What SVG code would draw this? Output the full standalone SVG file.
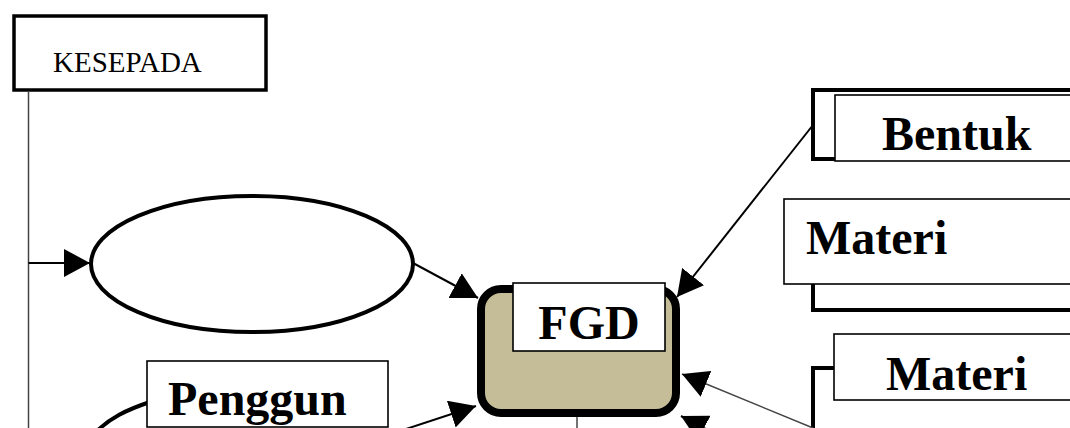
<svg xmlns="http://www.w3.org/2000/svg" width="1070" height="428" viewBox="0 0 1070 428">
  <style>
    .box { fill: #ffffff; stroke: #000000; stroke-width: 1.6; }
    .frame { fill: none; stroke: #000000; stroke-width: 4; stroke-linejoin: miter; }
    .oval { fill: #ffffff; stroke: #000000; stroke-width: 4; }
    .lbl { font-family: "Liberation Serif", "Times New Roman", serif; fill: #000000; }
    .big { font-size: 48px; font-weight: bold; }
    .small { font-size: 29px; }
    .wire { fill: none; stroke: #000000; stroke-width: 2; }
    .thin { fill: none; stroke: #444444; stroke-width: 1.5; }
  </style>
  <defs>
    <marker id="arrow" viewBox="0 0 26 28" refX="26" refY="14" markerWidth="26" markerHeight="28" markerUnits="userSpaceOnUse" orient="auto">
      <path d="M0,0 L26,14 L0,28 z" fill="#000000"/>
    </marker>
  </defs>
  <rect width="1070" height="428" fill="#ffffff"/>

  <!-- KESEPADA header box -->
  <g id="kesepada">
    <rect x="14" y="16" width="252" height="74" fill="#ffffff" stroke="#000000" stroke-width="3.5"/>
    <text class="lbl small" x="53" y="72">KESEPADA</text>
  </g>

  <!-- empty oval -->
  <g id="oval-top">
    <ellipse class="oval" cx="252" cy="264" rx="161" ry="68"/>
  </g>

  <!-- Bentuk -->
  <g id="bentuk">
    <path class="frame" d="M1072,90 L813,90 L813,159 L836,159"/>
    <rect class="box" x="835" y="95" width="240" height="66"/>
    <text class="lbl big" x="882" y="150">Bentuk</text>
  </g>

  <!-- Materi (upper) -->
  <g id="materi-1">
    <path class="frame" d="M813,280 L813,310 L1072,310"/>
    <rect class="box" x="784" y="199" width="290" height="85"/>
    <text class="lbl big" x="806" y="254">Materi</text>
  </g>

  <!-- Materi (lower) -->
  <g id="materi-2">
    <path class="frame" d="M813,430 L813,368 L836,368"/>
    <rect class="box" x="834" y="334" width="240" height="66"/>
    <text class="lbl big" x="886" y="390">Materi</text>
  </g>

  <!-- Penggun -->
  <g id="penggun">
    <path d="M96,432 C110,418 126,410 150,402" fill="none" stroke="#000000" stroke-width="4"/>
    <rect class="box" x="147" y="361" width="241" height="66"/>
    <text class="lbl big" x="168" y="415">Penggun</text>
  </g>

  <!-- connectors -->
  <g id="connectors">
    <path class="thin" d="M28.5,91 L28.5,430"/>
    <path class="wire" d="M28.5,263 L90,263" marker-end="url(#arrow)"/>
    <path class="wire" d="M413,263 L478,298" marker-end="url(#arrow)"/>
    <path class="wire" d="M813,125 L677,297" marker-end="url(#arrow)"/>
    <path class="thin" d="M813,428 L682,374" marker-end="url(#arrow)"/>
    <path class="wire" d="M740,447 L681,416" marker-end="url(#arrow)"/>
    <path class="wire" d="M403,430 L476,406" marker-end="url(#arrow)"/>
    <path class="thin" d="M577,417 L577,430"/>
  </g>

  <!-- FGD central node -->
  <g id="fgd">
    <rect x="481" y="289" width="195" height="124" rx="20" ry="20" fill="#c4bd97" stroke="#000000" stroke-width="8"/>
    <rect class="box" x="513" y="283" width="152" height="68" stroke-width="2"/>
    <text class="lbl big" x="589" y="339" text-anchor="middle">FGD</text>
  </g>
</svg>
